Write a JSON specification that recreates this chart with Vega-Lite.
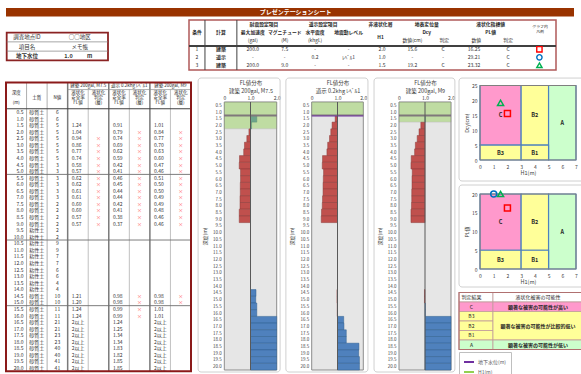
{
"$schema":"https://vega.github.io/schema/vega-lite/v6.json",
"width":581,"height":374,"padding":0,"autosize":{"type":"none"},"background":"white",
"config":{"font":"Noto Sans CJK JP","view":{"stroke":null},
 "axis":{"grid":false,"ticks":false,"domain":false,"labelFontSize":5,"labelColor":"#404040","titleFontSize":5.5,"titleFontWeight":"normal","titleColor":"#404040","labelOverlap":false,"labelFlush":false,"labelBound":false},
 "text":{"fontSize":5,"color":"#333333"}},
"datasets":{
 "info":[{"r":0,"label":"調査地点ID","value":"○○地区"},{"r":1,"label":"項目名","value":"メモ帳"},{"r":2,"label":"地下水位","value":"1.0","unit":"m"}],
 "cond":[
  {"cond":1,"calc":"建築","acc":"200.0","mag":"7.5","kh":"-","lvl":"-","h1":2.0,"dcy":15.6,"dj":"C","pl":16.25,"pj":"C"},
  {"cond":2,"calc":"道示","acc":"-","mag":"-","kh":"0.2","lvl":"ﾚﾍﾞﾙ1","h1":1.0,"dcy":null,"dj":"-","pl":29.21,"pj":"C"},
  {"cond":3,"calc":"建築","acc":"200.0","mag":"9.0","kh":"-","lvl":"-","h1":1.5,"dcy":19.2,"dj":"C","pl":23.32,"pj":"C"}],
 "condHead":[
  {"col":0.25,"line":-1.0,"t":"条件","b":1},{"col":1.0,"line":-1.0,"t":"計算","b":1},
  {"col":2.35,"line":-2.04,"t":"耐震設定項目","b":1},{"col":2.0,"line":-1.0,"t":"最大加速度","b":1},{"col":3.0,"line":-1.0,"t":"マグニチュード","b":1},
  {"col":2.0,"line":-0.04,"t":"(gal)","b":0},{"col":3.0,"line":-0.04,"t":"(M)","b":0},
  {"col":4.2,"line":-2.04,"t":"道示設定項目","b":1},{"col":3.95,"line":-1.0,"t":"水平震度","b":1},{"col":5.0,"line":-1.0,"t":"地震動レベル","b":1},
  {"col":3.95,"line":-0.04,"t":"(khgL)","b":0},
  {"col":6.0,"line":-2.04,"t":"非液状化層","b":1},{"col":6.0,"line":-0.45,"t":"H1","b":1},
  {"col":7.45,"line":-2.04,"t":"地表変位量","b":1},{"col":7.45,"line":-1.0,"t":"Dcy","b":1},
  {"col":7.0,"line":-0.04,"t":"数値(cm)","b":0},{"col":8.0,"line":-0.04,"t":"判定","b":0},
  {"col":9.45,"line":-2.04,"t":"液状化指標値","b":1},{"col":9.45,"line":-1.0,"t":"PL値","b":1},
  {"col":9.0,"line":-0.04,"t":"数値","b":0},{"col":10.0,"line":-0.04,"t":"判定","b":0}],
 "condHead2":[{"col":11.0,"line":-1.8,"t":"グラフ内"},{"col":11.0,"line":-1.18,"t":"凡例"}],
 "soilHead":[
  {"col":0.5,"line":-0.95,"t":"深度"},{"col":0.5,"line":-0.2,"t":"(m)"},{"col":1.5,"line":-0.6,"t":"土質"},{"col":2.5,"line":-0.6,"t":"N値"},
  {"col":4,"line":-1.48,"t":"建築 200gal, M7.5"},{"col":6,"line":-1.48,"t":"道示 0.2khg ﾚﾍﾞﾙ1"},{"col":8,"line":-1.48,"t":"建築 200gal, M9"},
  {"col":3.5,"line":-0.95,"t":"液状化"},{"col":3.5,"line":-0.6,"t":"安全率"},{"col":3.5,"line":-0.22,"t":"FL値"},
  {"col":4.5,"line":-0.95,"t":"液状化"},{"col":4.5,"line":-0.6,"t":"判定"},{"col":4.5,"line":-0.22,"t":"(層)"},
  {"col":5.5,"line":-0.95,"t":"液状化"},{"col":5.5,"line":-0.6,"t":"安全率"},{"col":5.5,"line":-0.22,"t":"FL値"},
  {"col":6.5,"line":-0.95,"t":"液状化"},{"col":6.5,"line":-0.6,"t":"判定"},{"col":6.5,"line":-0.22,"t":"(層)"},
  {"col":7.5,"line":-0.95,"t":"液状化"},{"col":7.5,"line":-0.6,"t":"安全率"},{"col":7.5,"line":-0.22,"t":"FL値"},
  {"col":8.5,"line":-0.95,"t":"液状化"},{"col":8.5,"line":-0.6,"t":"判定"},{"col":8.5,"line":-0.22,"t":"(層)"}],
 "soil":[
  {"depth":0.5,"soil":"砂質土","N":6,"f1":null,"j1":"","f2":null,"j2":"","f3":null,"j3":""},
  {"depth":1.0,"soil":"砂質土","N":6,"f1":null,"j1":"","f2":null,"j2":"","f3":null,"j3":""},
  {"depth":1.5,"soil":"砂質土","N":5,"f1":1.24,"j1":"","f2":0.91,"j2":"","f3":1.01,"j3":""},
  {"depth":2.0,"soil":"砂質土","N":5,"f1":1.04,"j1":"","f2":0.79,"j2":"×","f3":0.84,"j3":"×"},
  {"depth":2.5,"soil":"砂質土","N":5,"f1":0.94,"j1":"×","f2":0.74,"j2":"×","f3":0.77,"j3":"×"},
  {"depth":3.0,"soil":"砂質土","N":5,"f1":0.86,"j1":"×","f2":0.69,"j2":"×","f3":0.70,"j3":"×"},
  {"depth":3.5,"soil":"砂質土","N":5,"f1":0.77,"j1":"×","f2":0.62,"j2":"×","f3":0.63,"j3":"×"},
  {"depth":4.0,"soil":"砂質土","N":5,"f1":0.74,"j1":"×","f2":0.59,"j2":"×","f3":0.60,"j3":"×"},
  {"depth":4.5,"soil":"砂質土","N":3,"f1":0.58,"j1":"×","f2":0.42,"j2":"×","f3":0.47,"j3":"×"},
  {"depth":5.0,"soil":"砂質土","N":3,"f1":0.57,"j1":"×","f2":0.41,"j2":"×","f3":0.46,"j3":"×"},
  {"depth":5.5,"soil":"砂質土","N":3,"f1":0.62,"j1":"×","f2":0.46,"j2":"×","f3":0.51,"j3":"×"},
  {"depth":6.0,"soil":"砂質土","N":3,"f1":0.62,"j1":"×","f2":0.45,"j2":"×","f3":0.50,"j3":"×"},
  {"depth":6.5,"soil":"砂質土","N":3,"f1":0.61,"j1":"×","f2":0.44,"j2":"×","f3":0.50,"j3":"×"},
  {"depth":7.0,"soil":"砂質土","N":3,"f1":0.61,"j1":"×","f2":0.44,"j2":"×","f3":0.49,"j3":"×"},
  {"depth":7.5,"soil":"砂質土","N":2,"f1":0.60,"j1":"×","f2":0.42,"j2":"×","f3":0.49,"j3":"×"},
  {"depth":8.0,"soil":"砂質土","N":2,"f1":0.60,"j1":"×","f2":0.41,"j2":"×","f3":0.48,"j3":"×"},
  {"depth":8.5,"soil":"砂質土","N":2,"f1":0.57,"j1":"×","f2":0.38,"j2":"×","f3":0.46,"j3":"×"},
  {"depth":9.0,"soil":"砂質土","N":2,"f1":0.57,"j1":"×","f2":0.37,"j2":"×","f3":0.46,"j3":"×"},
  {"depth":9.5,"soil":"粘性土","N":2,"f1":null,"j1":"","f2":null,"j2":"","f3":null,"j3":""},
  {"depth":10.0,"soil":"粘性土","N":2,"f1":null,"j1":"","f2":null,"j2":"","f3":null,"j3":""},
  {"depth":10.5,"soil":"粘性土","N":9,"f1":null,"j1":"","f2":null,"j2":"","f3":null,"j3":""},
  {"depth":11.0,"soil":"粘性土","N":9,"f1":null,"j1":"","f2":null,"j2":"","f3":null,"j3":""},
  {"depth":11.5,"soil":"粘性土","N":7,"f1":null,"j1":"","f2":null,"j2":"","f3":null,"j3":""},
  {"depth":12.0,"soil":"粘性土","N":7,"f1":null,"j1":"","f2":null,"j2":"","f3":null,"j3":""},
  {"depth":12.5,"soil":"粘性土","N":6,"f1":null,"j1":"","f2":null,"j2":"","f3":null,"j3":""},
  {"depth":13.0,"soil":"粘性土","N":6,"f1":null,"j1":"","f2":null,"j2":"","f3":null,"j3":""},
  {"depth":13.5,"soil":"粘性土","N":4,"f1":null,"j1":"","f2":null,"j2":"","f3":null,"j3":""},
  {"depth":14.0,"soil":"粘性土","N":4,"f1":null,"j1":"","f2":null,"j2":"","f3":null,"j3":""},
  {"depth":14.5,"soil":"砂質土","N":10,"f1":1.21,"j1":"","f2":0.98,"j2":"×","f3":0.98,"j3":"×"},
  {"depth":15.0,"soil":"砂質土","N":10,"f1":1.20,"j1":"","f2":0.98,"j2":"×","f3":0.98,"j3":"×"},
  {"depth":15.5,"soil":"砂質土","N":11,"f1":1.24,"j1":"","f2":0.99,"j2":"×","f3":1.01,"j3":""},
  {"depth":16.0,"soil":"砂質土","N":11,"f1":1.24,"j1":"","f2":0.99,"j2":"×","f3":1.01,"j3":""},
  {"depth":16.5,"soil":"砂質土","N":21,"f1":2,"j1":"","f2":1.24,"j2":"","f3":2,"j3":""},
  {"depth":17.0,"soil":"砂質土","N":21,"f1":2,"j1":"","f2":1.25,"j2":"","f3":2,"j3":""},
  {"depth":17.5,"soil":"砂質土","N":23,"f1":2,"j1":"","f2":1.34,"j2":"","f3":2,"j3":""},
  {"depth":18.0,"soil":"砂質土","N":23,"f1":2,"j1":"","f2":1.34,"j2":"","f3":2,"j3":""},
  {"depth":18.5,"soil":"砂質土","N":40,"f1":2,"j1":"","f2":1.83,"j2":"","f3":2,"j3":""},
  {"depth":19.0,"soil":"砂質土","N":40,"f1":2,"j1":"","f2":1.82,"j2":"","f3":2,"j3":""},
  {"depth":19.5,"soil":"砂質土","N":41,"f1":2,"j1":"","f2":1.85,"j2":"","f3":2,"j3":""},
  {"depth":20.0,"soil":"砂質土","N":41,"f1":2,"j1":"","f2":1.85,"j2":"","f3":2,"j3":""}],
 "gwl":[{"gwl":1.0,"kind":"地下水位(m)"}],
 "zones":[{"zone":"C","x0":0,"x1":3,"y0":5,"y1":25},{"zone":"B2","x0":3,"x1":5,"y0":5,"y1":25},{"zone":"A","x0":5,"x1":7,"y0":0,"y1":25},{"zone":"B3","x0":0,"x1":3,"y0":0,"y1":5},{"zone":"B1","x0":3,"x1":5,"y0":0,"y1":5}],
 "judgeHead":[{"top":0,"bot":1,"left":"判定結果","right":"液状化被害の可能性"}],
 "judge":[{"top":1,"bot":2,"zone":"C"},{"top":2,"bot":3,"zone":"B3"},{"top":3,"bot":4,"zone":"B2"},{"top":4,"bot":5,"zone":"B1"},{"top":5,"bot":6,"zone":"A"}],
 "judgeDesc":[{"top":1,"bot":2,"zone":"C","desc":"顕著な被害の可能性が高い"},{"top":2,"bot":5,"zone":"B2","desc":"顕著な被害の可能性が比較的低い"},{"top":5,"bot":6,"zone":"A","desc":"顕著な被害の可能性が低い"}]
},
"resolve":{"scale":{"x":"independent","y":"independent","color":"independent","fill":"independent","shape":"independent"},"axis":{"x":"independent","y":"independent"}},
"layer":[
 {"data":{"values":[{"t":"プレゼンテーションシート"}]},
  "layer":[
   {"mark":{"type":"rect","fill":"#993300"},
    "encoding":{"x":{"datum":0,"type":"quantitative","scale":{"domain":[0,1],"range":[6,574]},"axis":null},"x2":{"datum":1},
     "y":{"datum":0,"type":"quantitative","scale":{"domain":[0,1],"range":[8,16.5]},"axis":null},"y2":{"datum":1}}},
   {"mark":{"type":"text","color":"white","fontWeight":"bold","fontSize":6},
    "encoding":{"x":{"datum":0.51,"type":"quantitative","scale":{"domain":[0,1],"range":[6,574]},"axis":null},
     "y":{"datum":0.5,"type":"quantitative","scale":{"domain":[0,1],"range":[8,16.5]},"axis":null},"text":{"field":"t","type":"nominal"}}}]},

 {"layer":[
   {"data":{"values":[{}]},"mark":{"type":"rect","fill":"white","stroke":"#8b2323","strokeWidth":1.8},
    "encoding":{"x":{"datum":0,"type":"quantitative","scale":{"domain":[0,1],"range":[6.7,108]},"axis":null},"x2":{"datum":1},
     "y":{"datum":-0.5,"type":"quantitative","scale":{"domain":[-0.5,2.5],"range":[32.6,60.4]},"axis":null},"y2":{"datum":2.5}}},
   {"data":{"name":"info"},"transform":[{"filter":"datum.r > 0"},{"calculate":"datum.r - 0.5","as":"b"}],
    "mark":{"type":"rule","color":"#808080","strokeWidth":0.7},
    "encoding":{"x":{"datum":0,"type":"quantitative","scale":{"domain":[0,1],"range":[6.7,108]},"axis":null},"x2":{"datum":1},
     "y":{"field":"b","type":"quantitative","scale":{"domain":[-0.5,2.5],"range":[32.6,60.4]},"axis":null}}},
   {"data":{"name":"info"},"transform":[{"filter":"datum.r < 2"}],"mark":{"type":"text","fontSize":5.5},
    "encoding":{"x":{"datum":0.2,"type":"quantitative","scale":{"domain":[0,1],"range":[6.7,108]},"axis":null},
     "y":{"field":"r","type":"quantitative","scale":{"domain":[-0.5,2.5],"range":[32.6,60.4]},"axis":null},"text":{"field":"label","type":"nominal"}}},
   {"data":{"name":"info"},"transform":[{"filter":"datum.r < 2"}],"mark":{"type":"text","fontSize":5.5},
    "encoding":{"x":{"datum":0.72,"type":"quantitative","scale":{"domain":[0,1],"range":[6.7,108]},"axis":null},
     "y":{"field":"r","type":"quantitative","scale":{"domain":[-0.5,2.5],"range":[32.6,60.4]},"axis":null},"text":{"field":"value","type":"nominal"}}},
   {"data":{"name":"info"},"transform":[{"filter":"datum.r == 2"}],"mark":{"type":"text","fontSize":5.5,"fontWeight":"bold"},
    "encoding":{"x":{"datum":0.2,"type":"quantitative","scale":{"domain":[0,1],"range":[6.7,108]},"axis":null},
     "y":{"field":"r","type":"quantitative","scale":{"domain":[-0.5,2.5],"range":[32.6,60.4]},"axis":null},"text":{"field":"label","type":"nominal"}}},
   {"data":{"name":"info"},"transform":[{"filter":"datum.r == 2"}],"mark":{"type":"text","fontSize":5.5,"fontWeight":"bold"},
    "encoding":{"x":{"datum":0.61,"type":"quantitative","scale":{"domain":[0,1],"range":[6.7,108]},"axis":null},
     "y":{"field":"r","type":"quantitative","scale":{"domain":[-0.5,2.5],"range":[32.6,60.4]},"axis":null},"text":{"field":"value","type":"nominal"}}},
   {"data":{"name":"info"},"transform":[{"filter":"datum.r == 2"}],"mark":{"type":"text","fontSize":5.5,"fontWeight":"bold"},
    "encoding":{"x":{"datum":0.82,"type":"quantitative","scale":{"domain":[0,1],"range":[6.7,108]},"axis":null},
     "y":{"field":"r","type":"quantitative","scale":{"domain":[-0.5,2.5],"range":[32.6,60.4]},"axis":null},"text":{"field":"unit","type":"nominal"}}}]},

 {"layer":[
   {"data":{"values":[{}]},"mark":{"type":"rect","fill":"white","stroke":"#b05a5a","strokeWidth":1.5},
    "encoding":{"x":{"datum":0,"type":"quantitative","scale":{"domain":[0,11.5],"range":[189,556]},"axis":null},"x2":{"datum":11.5},
     "y":{"datum":-2.66,"type":"quantitative","scale":{"domain":[-2.66,3.59],"range":[20,70]},"axis":null},"y2":{"datum":3.59}}},
   {"data":{"values":[{}]},"mark":{"type":"rule","color":"#404040","strokeWidth":1},
    "encoding":{"x":{"datum":0.5,"type":"quantitative","scale":{"domain":[0,11.5],"range":[189,556]},"axis":null},
     "y":{"datum":-2.66,"type":"quantitative","scale":{"domain":[-2.66,3.59],"range":[20,70]},"axis":null},"y2":{"datum":3.59}}},
   {"data":{"values":[{}]},"mark":{"type":"rule","color":"#404040","strokeWidth":1},
    "encoding":{"x":{"datum":1.5,"type":"quantitative","scale":{"domain":[0,11.5],"range":[189,556]},"axis":null},
     "y":{"datum":-2.66,"type":"quantitative","scale":{"domain":[-2.66,3.59],"range":[20,70]},"axis":null},"y2":{"datum":3.59}}},
   {"data":{"values":[{}]},"mark":{"type":"rule","color":"#404040","strokeWidth":2},
    "encoding":{"x":{"datum":0,"type":"quantitative","scale":{"domain":[0,11.5],"range":[189,556]},"axis":null},"x2":{"datum":11.5},
     "y":{"datum":0.58,"type":"quantitative","scale":{"domain":[-2.66,3.59],"range":[20,70]},"axis":null}}},
   {"data":{"name":"condHead"},"transform":[{"filter":"datum.b == 1"}],"mark":{"type":"text","fontWeight":"bold","fontSize":4.8,"color":"#262626"},
    "encoding":{"x":{"field":"col","type":"quantitative","scale":{"domain":[0,11.5],"range":[189,556]},"axis":null},
     "y":{"field":"line","type":"quantitative","scale":{"domain":[-2.66,3.59],"range":[20,70]},"axis":null},"text":{"field":"t","type":"nominal"}}},
   {"data":{"name":"condHead"},"transform":[{"filter":"datum.b == 0"}],"mark":{"type":"text","fontSize":4.8,"color":"#262626"},
    "encoding":{"x":{"field":"col","type":"quantitative","scale":{"domain":[0,11.5],"range":[189,556]},"axis":null},
     "y":{"field":"line","type":"quantitative","scale":{"domain":[-2.66,3.59],"range":[20,70]},"axis":null},"text":{"field":"t","type":"nominal"}}},
   {"data":{"name":"condHead2"},"mark":{"type":"text","fontSize":3.9,"color":"#262626"},
    "encoding":{"x":{"field":"col","type":"quantitative","scale":{"domain":[0,11.5],"range":[189,556]},"axis":null},
     "y":{"field":"line","type":"quantitative","scale":{"domain":[-2.66,3.59],"range":[20,70]},"axis":null},"text":{"field":"t","type":"nominal"}}},
   {"data":{"name":"cond"},"layer":[
     {"mark":{"type":"text"},"encoding":{"x":{"datum":0.25,"type":"quantitative","scale":{"domain":[0,11.5],"range":[189,556]},"axis":null},"y":{"field":"cond","type":"quantitative","scale":{"domain":[-2.66,3.59],"range":[20,70]},"axis":null},"text":{"field":"cond","type":"nominal"}}},
     {"mark":{"type":"text","fontWeight":"bold"},"encoding":{"x":{"datum":1.0,"type":"quantitative","scale":{"domain":[0,11.5],"range":[189,556]},"axis":null},"y":{"field":"cond","type":"quantitative","scale":{"domain":[-2.66,3.59],"range":[20,70]},"axis":null},"text":{"field":"calc","type":"nominal"}}},
     {"mark":{"type":"text"},"encoding":{"x":{"datum":2.0,"type":"quantitative","scale":{"domain":[0,11.5],"range":[189,556]},"axis":null},"y":{"field":"cond","type":"quantitative","scale":{"domain":[-2.66,3.59],"range":[20,70]},"axis":null},"text":{"field":"acc","type":"nominal"}}},
     {"mark":{"type":"text"},"encoding":{"x":{"datum":3.0,"type":"quantitative","scale":{"domain":[0,11.5],"range":[189,556]},"axis":null},"y":{"field":"cond","type":"quantitative","scale":{"domain":[-2.66,3.59],"range":[20,70]},"axis":null},"text":{"field":"mag","type":"nominal"}}},
     {"mark":{"type":"text"},"encoding":{"x":{"datum":3.95,"type":"quantitative","scale":{"domain":[0,11.5],"range":[189,556]},"axis":null},"y":{"field":"cond","type":"quantitative","scale":{"domain":[-2.66,3.59],"range":[20,70]},"axis":null},"text":{"field":"kh","type":"nominal"}}},
     {"mark":{"type":"text"},"encoding":{"x":{"datum":5.0,"type":"quantitative","scale":{"domain":[0,11.5],"range":[189,556]},"axis":null},"y":{"field":"cond","type":"quantitative","scale":{"domain":[-2.66,3.59],"range":[20,70]},"axis":null},"text":{"field":"lvl","type":"nominal"}}},
     {"mark":{"type":"text"},"encoding":{"x":{"datum":6.05,"type":"quantitative","scale":{"domain":[0,11.5],"range":[189,556]},"axis":null},"y":{"field":"cond","type":"quantitative","scale":{"domain":[-2.66,3.59],"range":[20,70]},"axis":null},"text":{"field":"h1","type":"quantitative","format":".1f"}}},
     {"mark":{"type":"text"},"encoding":{"x":{"datum":7.0,"type":"quantitative","scale":{"domain":[0,11.5],"range":[189,556]},"axis":null},"y":{"field":"cond","type":"quantitative","scale":{"domain":[-2.66,3.59],"range":[20,70]},"axis":null},"text":{"condition":{"test":"!isValid(datum.dcy)","value":"-"},"field":"dcy","type":"quantitative","format":".1f"}}},
     {"mark":{"type":"text"},"encoding":{"x":{"datum":7.96,"type":"quantitative","scale":{"domain":[0,11.5],"range":[189,556]},"axis":null},"y":{"field":"cond","type":"quantitative","scale":{"domain":[-2.66,3.59],"range":[20,70]},"axis":null},"text":{"field":"dj","type":"nominal"}}},
     {"mark":{"type":"text"},"encoding":{"x":{"datum":8.93,"type":"quantitative","scale":{"domain":[0,11.5],"range":[189,556]},"axis":null},"y":{"field":"cond","type":"quantitative","scale":{"domain":[-2.66,3.59],"range":[20,70]},"axis":null},"text":{"field":"pl","type":"quantitative","format":".2f"}}},
     {"mark":{"type":"text"},"encoding":{"x":{"datum":10.0,"type":"quantitative","scale":{"domain":[0,11.5],"range":[189,556]},"axis":null},"y":{"field":"cond","type":"quantitative","scale":{"domain":[-2.66,3.59],"range":[20,70]},"axis":null},"text":{"field":"pj","type":"nominal"}}},
     {"mark":{"type":"point","filled":false,"strokeWidth":1.4,"size":28,"opacity":1},"encoding":{"x":{"datum":10.98,"type":"quantitative","scale":{"domain":[0,11.5],"range":[189,556]},"axis":null},"y":{"field":"cond","type":"quantitative","scale":{"domain":[-2.66,3.59],"range":[20,70]},"axis":null},
       "shape":{"field":"cond","type":"nominal","scale":{"domain":[1,2,3],"range":["square","circle","triangle-up"]},"legend":null},
       "color":{"field":"cond","type":"nominal","scale":{"domain":[1,2,3],"range":["#ff0000","#0070c0","#00b050"]},"legend":null}}}]}]},

 {"layer":[
   {"data":{"values":[{}]},"mark":{"type":"rect","fill":"white"},
    "encoding":{"x":{"datum":0,"type":"quantitative","scale":{"domain":[0,9],"range":[6,191]},"axis":null},"x2":{"datum":9},
     "y":{"datum":-1.75,"type":"quantitative","scale":{"domain":[-1.75,20.25],"range":[82.5,371.3]},"axis":null},"y2":{"datum":20.25}}},
   {"data":{"values":[{}]},"mark":{"type":"rule","color":"#8c8c8c","strokeWidth":0.7},
    "encoding":{"x":{"datum":1,"type":"quantitative","scale":{"domain":[0,9],"range":[6,191]},"axis":null},"y":{"datum":-1.75,"type":"quantitative","scale":{"domain":[-1.75,20.25],"range":[82.5,371.3]},"axis":null},"y2":{"datum":20.25}}},
   {"data":{"values":[{}]},"mark":{"type":"rule","color":"#8c8c8c","strokeWidth":0.7},
    "encoding":{"x":{"datum":2,"type":"quantitative","scale":{"domain":[0,9],"range":[6,191]},"axis":null},"y":{"datum":-1.75,"type":"quantitative","scale":{"domain":[-1.75,20.25],"range":[82.5,371.3]},"axis":null},"y2":{"datum":20.25}}},
   {"data":{"values":[{}]},"mark":{"type":"rule","color":"#7a7a7a","strokeWidth":1.5},
    "encoding":{"x":{"datum":3,"type":"quantitative","scale":{"domain":[0,9],"range":[6,191]},"axis":null},"y":{"datum":-1.75,"type":"quantitative","scale":{"domain":[-1.75,20.25],"range":[82.5,371.3]},"axis":null},"y2":{"datum":20.25}}},
   {"data":{"values":[{}]},"mark":{"type":"rule","color":"#7a7a7a","strokeWidth":1.5},
    "encoding":{"x":{"datum":5,"type":"quantitative","scale":{"domain":[0,9],"range":[6,191]},"axis":null},"y":{"datum":-1.75,"type":"quantitative","scale":{"domain":[-1.75,20.25],"range":[82.5,371.3]},"axis":null},"y2":{"datum":20.25}}},
   {"data":{"values":[{}]},"mark":{"type":"rule","color":"#7a7a7a","strokeWidth":1.5},
    "encoding":{"x":{"datum":7,"type":"quantitative","scale":{"domain":[0,9],"range":[6,191]},"axis":null},"y":{"datum":-1.75,"type":"quantitative","scale":{"domain":[-1.75,20.25],"range":[82.5,371.3]},"axis":null},"y2":{"datum":20.25}}},
   {"data":{"values":[{}]},"mark":{"type":"rule","color":"#a6a6a6","strokeWidth":0.7},
    "encoding":{"x":{"datum":4,"type":"quantitative","scale":{"domain":[0,9],"range":[6,191]},"axis":null},"y":{"datum":-1.21,"type":"quantitative","scale":{"domain":[-1.75,20.25],"range":[82.5,371.3]},"axis":null},"y2":{"datum":20.25}}},
   {"data":{"values":[{}]},"mark":{"type":"rule","color":"#a6a6a6","strokeWidth":0.7},
    "encoding":{"x":{"datum":6,"type":"quantitative","scale":{"domain":[0,9],"range":[6,191]},"axis":null},"y":{"datum":-1.21,"type":"quantitative","scale":{"domain":[-1.75,20.25],"range":[82.5,371.3]},"axis":null},"y2":{"datum":20.25}}},
   {"data":{"values":[{}]},"mark":{"type":"rule","color":"#a6a6a6","strokeWidth":0.7},
    "encoding":{"x":{"datum":8,"type":"quantitative","scale":{"domain":[0,9],"range":[6,191]},"axis":null},"y":{"datum":-1.21,"type":"quantitative","scale":{"domain":[-1.75,20.25],"range":[82.5,371.3]},"axis":null},"y2":{"datum":20.25}}},
   {"data":{"values":[{}]},"mark":{"type":"rule","color":"#8c8c8c","strokeWidth":0.7},
    "encoding":{"x":{"datum":3,"type":"quantitative","scale":{"domain":[0,9],"range":[6,191]},"axis":null},"x2":{"datum":9},"y":{"datum":-1.21,"type":"quantitative","scale":{"domain":[-1.75,20.25],"range":[82.5,371.3]},"axis":null}}},
   {"data":{"values":[{}]},"mark":{"type":"rule","color":"#404040","strokeWidth":1.2},
    "encoding":{"x":{"datum":0,"type":"quantitative","scale":{"domain":[0,9],"range":[6,191]},"axis":null},"x2":{"datum":9},"y":{"datum":0.25,"type":"quantitative","scale":{"domain":[-1.75,20.25],"range":[82.5,371.3]},"axis":null}}},
   {"data":{"values":[{}]},"mark":{"type":"rule","color":"#6e6e6e","strokeWidth":0.9},
    "encoding":{"x":{"datum":0,"type":"quantitative","scale":{"domain":[0,9],"range":[6,191]},"axis":null},"x2":{"datum":9},"y":{"datum":5.25,"type":"quantitative","scale":{"domain":[-1.75,20.25],"range":[82.5,371.3]},"axis":null}}},
   {"data":{"values":[{}]},"mark":{"type":"rule","color":"#6e6e6e","strokeWidth":0.9},
    "encoding":{"x":{"datum":0,"type":"quantitative","scale":{"domain":[0,9],"range":[6,191]},"axis":null},"x2":{"datum":9},"y":{"datum":10.25,"type":"quantitative","scale":{"domain":[-1.75,20.25],"range":[82.5,371.3]},"axis":null}}},
   {"data":{"values":[{}]},"mark":{"type":"rule","color":"#6e6e6e","strokeWidth":0.9},
    "encoding":{"x":{"datum":0,"type":"quantitative","scale":{"domain":[0,9],"range":[6,191]},"axis":null},"x2":{"datum":9},"y":{"datum":15.25,"type":"quantitative","scale":{"domain":[-1.75,20.25],"range":[82.5,371.3]},"axis":null}}},
   {"data":{"name":"soilHead"},"mark":{"type":"text","fontSize":4.5,"color":"#262626"},
    "encoding":{"x":{"field":"col","type":"quantitative","scale":{"domain":[0,9],"range":[6,191]},"axis":null},
     "y":{"field":"line","type":"quantitative","scale":{"domain":[-1.75,20.25],"range":[82.5,371.3]},"axis":null},"text":{"field":"t","type":"nominal"}}},
   {"data":{"name":"soil"},"layer":[
     {"mark":{"type":"text","align":"right"},"encoding":{"x":{"datum":0.85,"type":"quantitative","scale":{"domain":[0,9],"range":[6,191]},"axis":null},"y":{"field":"depth","type":"quantitative","scale":{"domain":[-1.75,20.25],"range":[82.5,371.3]},"axis":null},"text":{"field":"depth","type":"quantitative","format":".1f"}}},
     {"mark":{"type":"text"},"encoding":{"x":{"datum":1.5,"type":"quantitative","scale":{"domain":[0,9],"range":[6,191]},"axis":null},"y":{"field":"depth","type":"quantitative","scale":{"domain":[-1.75,20.25],"range":[82.5,371.3]},"axis":null},"text":{"field":"soil","type":"nominal"}}},
     {"mark":{"type":"text"},"encoding":{"x":{"datum":2.5,"type":"quantitative","scale":{"domain":[0,9],"range":[6,191]},"axis":null},"y":{"field":"depth","type":"quantitative","scale":{"domain":[-1.75,20.25],"range":[82.5,371.3]},"axis":null},"text":{"field":"N","type":"quantitative"}}},
     {"transform":[{"filter":"isValid(datum.f1)"}],"mark":{"type":"text","align":"left"},"encoding":{"x":{"datum":3.2,"type":"quantitative","scale":{"domain":[0,9],"range":[6,191]},"axis":null},"y":{"field":"depth","type":"quantitative","scale":{"domain":[-1.75,20.25],"range":[82.5,371.3]},"axis":null},"text":{"condition":{"test":"datum.f1 >= 2","value":"2以上"},"field":"f1","type":"quantitative","format":".2f"}}},
     {"transform":[{"filter":"isValid(datum.f2)"}],"mark":{"type":"text","align":"left"},"encoding":{"x":{"datum":5.2,"type":"quantitative","scale":{"domain":[0,9],"range":[6,191]},"axis":null},"y":{"field":"depth","type":"quantitative","scale":{"domain":[-1.75,20.25],"range":[82.5,371.3]},"axis":null},"text":{"condition":{"test":"datum.f2 >= 2","value":"2以上"},"field":"f2","type":"quantitative","format":".2f"}}},
     {"transform":[{"filter":"isValid(datum.f3)"}],"mark":{"type":"text","align":"left"},"encoding":{"x":{"datum":7.2,"type":"quantitative","scale":{"domain":[0,9],"range":[6,191]},"axis":null},"y":{"field":"depth","type":"quantitative","scale":{"domain":[-1.75,20.25],"range":[82.5,371.3]},"axis":null},"text":{"condition":{"test":"datum.f3 >= 2","value":"2以上"},"field":"f3","type":"quantitative","format":".2f"}}},
     {"mark":{"type":"text","color":"#ff4d4d"},"encoding":{"x":{"datum":4.5,"type":"quantitative","scale":{"domain":[0,9],"range":[6,191]},"axis":null},"y":{"field":"depth","type":"quantitative","scale":{"domain":[-1.75,20.25],"range":[82.5,371.3]},"axis":null},"text":{"field":"j1","type":"nominal"}}},
     {"mark":{"type":"text","color":"#ff4d4d"},"encoding":{"x":{"datum":6.5,"type":"quantitative","scale":{"domain":[0,9],"range":[6,191]},"axis":null},"y":{"field":"depth","type":"quantitative","scale":{"domain":[-1.75,20.25],"range":[82.5,371.3]},"axis":null},"text":{"field":"j2","type":"nominal"}}},
     {"mark":{"type":"text","color":"#ff4d4d"},"encoding":{"x":{"datum":8.5,"type":"quantitative","scale":{"domain":[0,9],"range":[6,191]},"axis":null},"y":{"field":"depth","type":"quantitative","scale":{"domain":[-1.75,20.25],"range":[82.5,371.3]},"axis":null},"text":{"field":"j3","type":"nominal"}}}]},
   {"data":{"values":[{}]},"mark":{"type":"rect","fillOpacity":0,"stroke":"#8b1a1a","strokeWidth":2},
    "encoding":{"x":{"datum":0,"type":"quantitative","scale":{"domain":[0,9],"range":[6,191]},"axis":null},"x2":{"datum":9},
     "y":{"datum":-1.75,"type":"quantitative","scale":{"domain":[-1.75,20.25],"range":[82.5,371.3]},"axis":null},"y2":{"datum":20.25}}}]},

 {"layer":[
   {"data":{"values":[{}]},"mark":{"type":"rect","fill":"#e6e6e6","stroke":"#8c8c8c","strokeWidth":1},
    "encoding":{"x":{"datum":0,"type":"quantitative","scale":{"domain":[0,2],"range":[224.3,276.7]},
       "axis":{"orient":"top","offset":-102,"values":[0,1,2],"labelExpr":"datum.value == 0 ? '0' : format(datum.value, '.1f')","labelPadding":2,"labelOverlap":false,"title":["FL値分布","建築 200gal, M7.5"],"titlePadding":2}},"x2":{"datum":2},
     "y":{"datum":0,"type":"quantitative","scale":{"domain":[0,20],"range":[102,370]},
       "axis":{"orient":"left","offset":-224.3,"values":[0.25,0.75,1.25,1.75,2.25,2.75,3.25,3.75,4.25,4.75,5.25,5.75,6.25,6.75,7.25,7.75,8.25,8.75,9.25,9.75,10.25,10.75,11.25,11.75,12.25,12.75,13.25,13.75,14.25,14.75,15.25,15.75,16.25,16.75,17.25,17.75,18.25,18.75,19.25,19.75],"tickCount":60,"labelExpr":"format(datum.value + 0.25, '.1f')","labelPadding":3,"labelFontSize":4.5,"labelOverlap":false,"labelSeparation":0,"title":"深度(m)","titlePadding":5,"titleFontSize":5}},"y2":{"datum":20}}},
   {"data":{"name":"soil"},"transform":[{"filter":"isValid(datum.f1)"},{"calculate":"datum.depth - 0.5","as":"top"},{"calculate":"1","as":"base"}],
    "mark":{"type":"rect","strokeWidth":0.5},
    "encoding":{"x":{"field":"base","type":"quantitative","scale":{"domain":[0,2],"range":[224.3,276.7]}},"x2":{"field":"f1"},
     "y":{"field":"top","type":"quantitative","scale":{"domain":[0,20],"range":[102,370]}},"y2":{"field":"depth"},
     "color":{"condition":{"test":"datum.f1 < 1","value":"#c0504d"},"value":"#4f81bd"},
     "stroke":{"condition":{"test":"datum.f1 < 1","value":"#8c3a38"},"value":"#2f5f8f"}}},
   {"data":{"name":"gwl"},"mark":{"type":"rule","strokeWidth":2},
    "encoding":{"x":{"datum":0,"type":"quantitative","scale":{"domain":[0,2],"range":[224.3,276.7]}},"x2":{"datum":2},
     "y":{"field":"gwl","type":"quantitative","scale":{"domain":[0,20],"range":[102,370]}},
     "color":{"field":"kind","type":"nominal","scale":{"domain":["地下水位(m)","H1(m)"],"range":["#7030a0","#92d050"]},
       "legend":{"orient":"none","legendX":459,"legendY":352,"title":null,"symbolType":"stroke","symbolStrokeWidth":2,"symbolSize":100,"labelFontSize":5,"labelColor":"#595959","strokeColor":"#bfbfbf","fillColor":"white","padding":4,"rowPadding":0,"labelOffset":3}}}},
   {"data":{"name":"cond"},"transform":[{"filter":"datum.cond == 1"},{"calculate":"0","as":"z"}],"mark":{"type":"rect","fill":"#92d050","opacity":0.45,"stroke":"#8c8c8c","strokeWidth":0.5},
    "encoding":{"x":{"datum":0,"type":"quantitative","scale":{"domain":[0,2],"range":[224.3,276.7]}},"x2":{"datum":2},
     "y":{"field":"z","type":"quantitative","scale":{"domain":[0,20],"range":[102,370]}},"y2":{"field":"h1"}}},
   {"data":{"values":[{}]},"mark":{"type":"rule","color":"#595959","strokeWidth":1},
    "encoding":{"x":{"datum":1,"type":"quantitative","scale":{"domain":[0,2],"range":[224.3,276.7]}},
     "y":{"datum":0,"type":"quantitative","scale":{"domain":[0,20],"range":[102,370]}},"y2":{"datum":20}}},
   {"data":{"values":[{}]},"mark":{"type":"rect","fillOpacity":0,"stroke":"#d0d0d0","strokeWidth":1,"cornerRadius":3},
    "encoding":{"x":{"datum":-1.0,"type":"quantitative","scale":{"domain":[0,2],"range":[224.3,276.7]}},"x2":{"datum":2.13},
     "y":{"datum":-1.79,"type":"quantitative","scale":{"domain":[0,20],"range":[102,370]}},"y2":{"datum":20.15}}}]},

 {"layer":[
   {"data":{"values":[{}]},"mark":{"type":"rect","fill":"#e6e6e6","stroke":"#8c8c8c","strokeWidth":1},
    "encoding":{"x":{"datum":0,"type":"quantitative","scale":{"domain":[0,2],"range":[311.7,363.3]},
       "axis":{"orient":"top","offset":-102,"values":[0,1,2],"labelExpr":"datum.value == 0 ? '0' : format(datum.value, '.1f')","labelPadding":2,"labelOverlap":false,"title":["FL値分布","道示 0.2khg ﾚﾍﾞﾙ1"],"titlePadding":2}},"x2":{"datum":2},
     "y":{"datum":0,"type":"quantitative","scale":{"domain":[0,20],"range":[102,370]},
       "axis":{"orient":"left","offset":-311.7,"values":[0.25,0.75,1.25,1.75,2.25,2.75,3.25,3.75,4.25,4.75,5.25,5.75,6.25,6.75,7.25,7.75,8.25,8.75,9.25,9.75,10.25,10.75,11.25,11.75,12.25,12.75,13.25,13.75,14.25,14.75,15.25,15.75,16.25,16.75,17.25,17.75,18.25,18.75,19.25,19.75],"tickCount":60,"labelExpr":"format(datum.value + 0.25, '.1f')","labelPadding":3,"labelFontSize":4.5,"labelOverlap":false,"labelSeparation":0,"title":"深度(m)","titlePadding":5,"titleFontSize":5}},"y2":{"datum":20}}},
   {"data":{"name":"soil"},"transform":[{"filter":"isValid(datum.f2)"},{"calculate":"datum.depth - 0.5","as":"top"},{"calculate":"1","as":"base"}],
    "mark":{"type":"rect","strokeWidth":0.5},
    "encoding":{"x":{"field":"base","type":"quantitative","scale":{"domain":[0,2],"range":[311.7,363.3]}},"x2":{"field":"f2"},
     "y":{"field":"top","type":"quantitative","scale":{"domain":[0,20],"range":[102,370]}},"y2":{"field":"depth"},
     "color":{"condition":{"test":"datum.f2 < 1","value":"#c0504d"},"value":"#4f81bd"},
     "stroke":{"condition":{"test":"datum.f2 < 1","value":"#8c3a38"},"value":"#2f5f8f"}}},
   {"data":{"name":"gwl"},"mark":{"type":"rule","strokeWidth":2,"color":"#7030a0"},
    "encoding":{"x":{"datum":0,"type":"quantitative","scale":{"domain":[0,2],"range":[311.7,363.3]}},"x2":{"datum":2},
     "y":{"field":"gwl","type":"quantitative","scale":{"domain":[0,20],"range":[102,370]}}}},
   {"data":{"name":"cond"},"transform":[{"filter":"datum.cond == 2"},{"calculate":"0","as":"z"}],"mark":{"type":"rect","fill":"#92d050","opacity":0.45,"stroke":"#8c8c8c","strokeWidth":0.5},
    "encoding":{"x":{"datum":0,"type":"quantitative","scale":{"domain":[0,2],"range":[311.7,363.3]}},"x2":{"datum":2},
     "y":{"field":"z","type":"quantitative","scale":{"domain":[0,20],"range":[102,370]}},"y2":{"field":"h1"}}},
   {"data":{"values":[{}]},"mark":{"type":"rule","color":"#595959","strokeWidth":1},
    "encoding":{"x":{"datum":1,"type":"quantitative","scale":{"domain":[0,2],"range":[311.7,363.3]}},
     "y":{"datum":0,"type":"quantitative","scale":{"domain":[0,20],"range":[102,370]}},"y2":{"datum":20}}},
   {"data":{"values":[{}]},"mark":{"type":"rect","fillOpacity":0,"stroke":"#d0d0d0","strokeWidth":1,"cornerRadius":3},
    "encoding":{"x":{"datum":-1.0,"type":"quantitative","scale":{"domain":[0,2],"range":[311.7,363.3]}},"x2":{"datum":2.18},
     "y":{"datum":-1.79,"type":"quantitative","scale":{"domain":[0,20],"range":[102,370]}},"y2":{"datum":20.15}}}]},

 {"layer":[
   {"data":{"values":[{}]},"mark":{"type":"rect","fill":"#e6e6e6","stroke":"#8c8c8c","strokeWidth":1},
    "encoding":{"x":{"datum":0,"type":"quantitative","scale":{"domain":[0,2],"range":[399,451]},
       "axis":{"orient":"top","offset":-102,"values":[0,1,2],"labelExpr":"datum.value == 0 ? '0' : format(datum.value, '.1f')","labelPadding":2,"labelOverlap":false,"title":["FL値分布","建築 200gal, M9"],"titlePadding":2}},"x2":{"datum":2},
     "y":{"datum":0,"type":"quantitative","scale":{"domain":[0,20],"range":[102,370]},
       "axis":{"orient":"left","offset":-399,"values":[0.25,0.75,1.25,1.75,2.25,2.75,3.25,3.75,4.25,4.75,5.25,5.75,6.25,6.75,7.25,7.75,8.25,8.75,9.25,9.75,10.25,10.75,11.25,11.75,12.25,12.75,13.25,13.75,14.25,14.75,15.25,15.75,16.25,16.75,17.25,17.75,18.25,18.75,19.25,19.75],"tickCount":60,"labelExpr":"format(datum.value + 0.25, '.1f')","labelPadding":3,"labelFontSize":4.5,"labelOverlap":false,"labelSeparation":0,"title":"深度(m)","titlePadding":5,"titleFontSize":5}},"y2":{"datum":20}}},
   {"data":{"name":"soil"},"transform":[{"filter":"isValid(datum.f3)"},{"calculate":"datum.depth - 0.5","as":"top"},{"calculate":"1","as":"base"}],
    "mark":{"type":"rect","strokeWidth":0.5},
    "encoding":{"x":{"field":"base","type":"quantitative","scale":{"domain":[0,2],"range":[399,451]}},"x2":{"field":"f3"},
     "y":{"field":"top","type":"quantitative","scale":{"domain":[0,20],"range":[102,370]}},"y2":{"field":"depth"},
     "color":{"condition":{"test":"datum.f3 < 1","value":"#c0504d"},"value":"#4f81bd"},
     "stroke":{"condition":{"test":"datum.f3 < 1","value":"#8c3a38"},"value":"#2f5f8f"}}},
   {"data":{"name":"gwl"},"mark":{"type":"rule","strokeWidth":2,"color":"#7030a0"},
    "encoding":{"x":{"datum":0,"type":"quantitative","scale":{"domain":[0,2],"range":[399,451]}},"x2":{"datum":2},
     "y":{"field":"gwl","type":"quantitative","scale":{"domain":[0,20],"range":[102,370]}}}},
   {"data":{"name":"cond"},"transform":[{"filter":"datum.cond == 3"},{"calculate":"0","as":"z"}],"mark":{"type":"rect","fill":"#92d050","opacity":0.45,"stroke":"#8c8c8c","strokeWidth":0.5},
    "encoding":{"x":{"datum":0,"type":"quantitative","scale":{"domain":[0,2],"range":[399,451]}},"x2":{"datum":2},
     "y":{"field":"z","type":"quantitative","scale":{"domain":[0,20],"range":[102,370]}},"y2":{"field":"h1"}}},
   {"data":{"values":[{}]},"mark":{"type":"rule","color":"#595959","strokeWidth":1},
    "encoding":{"x":{"datum":1,"type":"quantitative","scale":{"domain":[0,2],"range":[399,451]}},
     "y":{"datum":0,"type":"quantitative","scale":{"domain":[0,20],"range":[102,370]}},"y2":{"datum":20}}},
   {"data":{"values":[{}]},"mark":{"type":"rect","fillOpacity":0,"stroke":"#d0d0d0","strokeWidth":1,"cornerRadius":3},
    "encoding":{"x":{"datum":-0.96,"type":"quantitative","scale":{"domain":[0,2],"range":[399,451]}},"x2":{"datum":2.15},
     "y":{"datum":-1.79,"type":"quantitative","scale":{"domain":[0,20],"range":[102,370]}},"y2":{"datum":20.15}}}]},

 {"layer":[
   {"data":{"name":"zones"},"mark":{"type":"rect","stroke":"#4f81bd","strokeWidth":1.2},
    "encoding":{"x":{"field":"x0","type":"quantitative","scale":{"domain":[0,7],"range":[480,576]},
       "axis":{"orient":"bottom","offset":-214,"values":[0,1,2,3,4,5,6,7],"format":"d","labelPadding":4,"title":"H1(m)","titlePadding":1.5}},"x2":{"field":"x1"},
     "y":{"field":"y0","type":"quantitative","scale":{"domain":[0,25],"range":[160,85.5]},
       "axis":{"orient":"left","offset":-480,"values":[0,5,10,15,20,25],"format":"d","labelPadding":3,"title":"Dcy(cm)","titlePadding":1.5,"titleFontSize":5}},"y2":{"field":"y1"},
     "fill":{"field":"zone","type":"nominal","scale":{"domain":["C","B1","B2","B3","A"],"range":["#ff99cc","#ffff99","#ffff99","#ffff99","#ccffcc"]},"legend":null}}},
   {"data":{"values":[{}]},"mark":{"type":"rect","fillOpacity":0,"stroke":"#7f7f7f","strokeWidth":1},
    "encoding":{"x":{"datum":0,"type":"quantitative","scale":{"domain":[0,7],"range":[480,576]}},"x2":{"datum":7},
     "y":{"datum":0,"type":"quantitative","scale":{"domain":[0,25],"range":[160,85.5]}},"y2":{"datum":25}}},
   {"data":{"name":"zones"},"transform":[{"calculate":"(datum.x0 + datum.x1) / 2","as":"cx"},{"calculate":"(datum.y0 + min(datum.y1, 25)) / 2","as":"cy"}],
    "mark":{"type":"text","fontWeight":"bold","fontSize":5.5,"color":"#262626"},
    "encoding":{"x":{"field":"cx","type":"quantitative","scale":{"domain":[0,7],"range":[480,576]}},
     "y":{"field":"cy","type":"quantitative","scale":{"domain":[0,25],"range":[160,85.5]}},"text":{"field":"zone","type":"nominal"}}},
   {"data":{"name":"cond"},"transform":[{"filter":"isValid(datum.dcy)"}],"mark":{"type":"point","filled":false,"strokeWidth":1.5,"size":36,"opacity":1},
    "encoding":{"x":{"field":"h1","type":"quantitative","scale":{"domain":[0,7],"range":[480,576]}},
     "y":{"field":"dcy","type":"quantitative","scale":{"domain":[0,25],"range":[160,85.5]}},
     "shape":{"field":"cond","type":"nominal","scale":{"domain":[1,2,3],"range":["square","circle","triangle-up"]},"legend":null},
     "color":{"field":"cond","type":"nominal","scale":{"domain":[1,2,3],"range":["#ff0000","#0070c0","#00b050"]},"legend":null}}},
   {"data":{"values":[{}]},"mark":{"type":"rect","fillOpacity":0,"stroke":"#d0d0d0","strokeWidth":1,"cornerRadius":3},
    "encoding":{"x":{"datum":-1.53,"type":"quantitative","scale":{"domain":[0,7],"range":[480,576]}},"x2":{"datum":7.66},
     "y":{"datum":-7.05,"type":"quantitative","scale":{"domain":[0,25],"range":[160,85.5]}},"y2":{"datum":27.5}}}]},

 {"layer":[
   {"data":{"name":"zones"},"transform":[{"calculate":"min(datum.y1, 20)","as":"y1p"}],"mark":{"type":"rect","stroke":"#4f81bd","strokeWidth":1.2},
    "encoding":{"x":{"field":"x0","type":"quantitative","scale":{"domain":[0,7],"range":[480,576]},
       "axis":{"orient":"bottom","offset":-105,"values":[0,1,2,3,4,5,6,7],"format":"d","labelPadding":4,"title":"H1(m)","titlePadding":1.5}},"x2":{"field":"x1"},
     "y":{"field":"y0","type":"quantitative","scale":{"domain":[0,20],"range":[269,194]},
       "axis":{"orient":"left","offset":-480,"values":[0,5,10,15,20],"format":"d","labelPadding":3,"title":"PL値","titlePadding":1.5,"titleFontSize":5}},"y2":{"field":"y1p"},
     "fill":{"field":"zone","type":"nominal","scale":{"domain":["C","B1","B2","B3","A"],"range":["#ff99cc","#ffff99","#ffff99","#ffff99","#ccffcc"]},"legend":null}}},
   {"data":{"values":[{}]},"mark":{"type":"rect","fillOpacity":0,"stroke":"#7f7f7f","strokeWidth":1},
    "encoding":{"x":{"datum":0,"type":"quantitative","scale":{"domain":[0,7],"range":[480,576]}},"x2":{"datum":7},
     "y":{"datum":0,"type":"quantitative","scale":{"domain":[0,20],"range":[269,194]}},"y2":{"datum":20}}},
   {"data":{"name":"zones"},"transform":[{"calculate":"(datum.x0 + datum.x1) / 2","as":"cx"},{"calculate":"(datum.y0 + min(datum.y1, 20)) / 2","as":"cy"}],
    "mark":{"type":"text","fontWeight":"bold","fontSize":5.5,"color":"#262626"},
    "encoding":{"x":{"field":"cx","type":"quantitative","scale":{"domain":[0,7],"range":[480,576]}},
     "y":{"field":"cy","type":"quantitative","scale":{"domain":[0,20],"range":[269,194]}},"text":{"field":"zone","type":"nominal"}}},
   {"data":{"name":"cond"},"transform":[{"calculate":"min(datum.pl, 20)","as":"plc"}],"mark":{"type":"point","filled":false,"strokeWidth":1.5,"size":36,"opacity":1},
    "encoding":{"x":{"field":"h1","type":"quantitative","scale":{"domain":[0,7],"range":[480,576]}},
     "y":{"field":"plc","type":"quantitative","scale":{"domain":[0,20],"range":[269,194]}},
     "shape":{"field":"cond","type":"nominal","scale":{"domain":[1,2,3],"range":["square","circle","triangle-up"]},"legend":null},
     "color":{"field":"cond","type":"nominal","scale":{"domain":[1,2,3],"range":["#ff0000","#0070c0","#00b050"]},"legend":null}}},
   {"data":{"values":[{}]},"mark":{"type":"rect","fillOpacity":0,"stroke":"#d0d0d0","strokeWidth":1,"cornerRadius":3},
    "encoding":{"x":{"datum":-1.53,"type":"quantitative","scale":{"domain":[0,7],"range":[480,576]}},"x2":{"datum":7.66},
     "y":{"datum":-4.8,"type":"quantitative","scale":{"domain":[0,20],"range":[269,194]}},"y2":{"datum":22.4}}}]},

 {"layer":[
   {"data":{"name":"judgeHead"},"mark":{"type":"rect","fill":"white","stroke":"#c09a9a","strokeWidth":0.8},
    "encoding":{"x":{"datum":0,"type":"quantitative","scale":{"domain":[0,1],"range":[459,583]},"axis":null},"x2":{"datum":0.274},
     "y":{"field":"top","type":"quantitative","scale":{"domain":[0,6],"range":[292.5,349.5]},"axis":null},"y2":{"field":"bot"}}},
   {"data":{"name":"judgeHead"},"mark":{"type":"rect","fill":"white","stroke":"#c09a9a","strokeWidth":0.8},
    "encoding":{"x":{"datum":0.274,"type":"quantitative","scale":{"domain":[0,1],"range":[459,583]},"axis":null},"x2":{"datum":1},
     "y":{"field":"top","type":"quantitative","scale":{"domain":[0,6],"range":[292.5,349.5]},"axis":null},"y2":{"field":"bot"}}},
   {"data":{"name":"judge"},"mark":{"type":"rect","stroke":"#c09a9a","strokeWidth":0.8},
    "encoding":{"x":{"datum":0,"type":"quantitative","scale":{"domain":[0,1],"range":[459,583]},"axis":null},"x2":{"datum":0.274},
     "y":{"field":"top","type":"quantitative","scale":{"domain":[0,6],"range":[292.5,349.5]},"axis":null},"y2":{"field":"bot"},
     "color":{"field":"zone","type":"nominal","scale":{"domain":["C","B1","B2","B3","A"],"range":["#ff99cc","#ffff99","#ffff99","#ffff99","#ccffcc"]},"legend":null}}},
   {"data":{"name":"judgeDesc"},"mark":{"type":"rect","stroke":"#c09a9a","strokeWidth":0.8},
    "encoding":{"x":{"datum":0.274,"type":"quantitative","scale":{"domain":[0,1],"range":[459,583]},"axis":null},"x2":{"datum":1},
     "y":{"field":"top","type":"quantitative","scale":{"domain":[0,6],"range":[292.5,349.5]},"axis":null},"y2":{"field":"bot"},
     "color":{"field":"zone","type":"nominal","scale":{"domain":["C","B1","B2","B3","A"],"range":["#ff99cc","#ffff99","#ffff99","#ffff99","#ccffcc"]},"legend":null}}},
   {"data":{"name":"judgeHead"},"transform":[{"calculate":"(datum.top + datum.bot) / 2","as":"mid"}],"mark":{"type":"text","fontSize":5,"color":"#262626"},
    "encoding":{"x":{"datum":0.1,"type":"quantitative","scale":{"domain":[0,1],"range":[459,583]},"axis":null},
     "y":{"field":"mid","type":"quantitative","scale":{"domain":[0,6],"range":[292.5,349.5]},"axis":null},"text":{"field":"left","type":"nominal"}}},
   {"data":{"name":"judgeHead"},"transform":[{"calculate":"(datum.top + datum.bot) / 2","as":"mid"}],"mark":{"type":"text","fontSize":5,"color":"#262626"},
    "encoding":{"x":{"datum":0.637,"type":"quantitative","scale":{"domain":[0,1],"range":[459,583]},"axis":null},
     "y":{"field":"mid","type":"quantitative","scale":{"domain":[0,6],"range":[292.5,349.5]},"axis":null},"text":{"field":"right","type":"nominal"}}},
   {"data":{"name":"judge"},"transform":[{"calculate":"(datum.top + datum.bot) / 2","as":"mid"}],"mark":{"type":"text","fontSize":5,"color":"#262626"},
    "encoding":{"x":{"datum":0.1,"type":"quantitative","scale":{"domain":[0,1],"range":[459,583]},"axis":null},
     "y":{"field":"mid","type":"quantitative","scale":{"domain":[0,6],"range":[292.5,349.5]},"axis":null},"text":{"field":"zone","type":"nominal"}}},
   {"data":{"name":"judgeDesc"},"transform":[{"calculate":"(datum.top + datum.bot) / 2","as":"mid"}],"mark":{"type":"text","fontSize":5,"fontWeight":"bold","color":"#262626"},
    "encoding":{"x":{"datum":0.637,"type":"quantitative","scale":{"domain":[0,1],"range":[459,583]},"axis":null},
     "y":{"field":"mid","type":"quantitative","scale":{"domain":[0,6],"range":[292.5,349.5]},"axis":null},"text":{"field":"desc","type":"nominal"}}},
   {"data":{"values":[{}]},"mark":{"type":"rect","fillOpacity":0,"stroke":"#b07070","strokeWidth":1.2},
    "encoding":{"x":{"datum":0,"type":"quantitative","scale":{"domain":[0,1],"range":[459,583]},"axis":null},"x2":{"datum":1},
     "y":{"datum":0,"type":"quantitative","scale":{"domain":[0,6],"range":[292.5,349.5]},"axis":null},"y2":{"datum":6}}}]}
]
}
